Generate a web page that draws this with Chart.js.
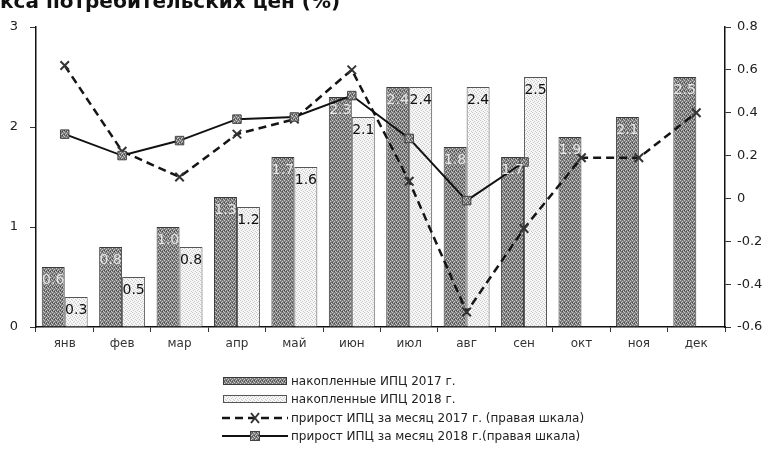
<!DOCTYPE html>
<html>
<head>
<meta charset="utf-8">
<script src="https://cdn.jsdelivr.net/npm/chart.js@4.4.1/dist/chart.umd.min.js"></script>
<style>
  body { margin: 0; background: #fff; }
  #wrap { position: relative; width: 771px; height: 461px; overflow: hidden; }
  #title { position: absolute; left: 0; top: -11px; font: bold 20px "DejaVu Sans"; color: #111; white-space: nowrap; }
  #legend { position: absolute; left: 222px; top: 372px; font: 12px "DejaVu Sans"; color: #222; }
  #legend div { height: 18.3px; display: flex; align-items: center; white-space: nowrap; }
  #legend canvas { margin-right: 3px; }
</style>
</head>
<body>
<div id="wrap">
  <div id="title">кса потребительских цен (%)</div>
  <canvas id="chart" width="771" height="461"></canvas>
  <div id="legend"></div>
</div>
<script>
var months = ['янв', 'фев', 'мар', 'апр', 'май', 'июн', 'июл', 'авг', 'сен', 'окт', 'ноя', 'дек'];
var cpi2017 = [0.6, 0.8, 1.0, 1.3, 1.7, 2.3, 2.4, 1.8, 1.7, 1.9, 2.1, 2.5];
var cpi2018 = [0.3, 0.5, 0.8, 1.2, 1.6, 2.1, 2.4, 2.4, 2.5, null, null, null];
var mom2017 = [0.62, 0.22, 0.1, 0.3, 0.37, 0.6, 0.08, -0.53, -0.14, 0.19, 0.19, 0.4];
var mom2018 = [0.3, 0.2, 0.27, 0.37, 0.38, 0.48, 0.28, -0.01, 0.17, null, null, null];
var leftTicks = [0, 1, 2, 3];
var rightTicks = [-0.6, -0.4, -0.2, 0, 0.2, 0.4, 0.6, 0.8];

// dithered fills, a bit like the scanned print
function makePattern(ctx, base, dot, dark) {
  var c = document.createElement('canvas');
  c.width = 4; c.height = 4;
  var g = c.getContext('2d');
  g.fillStyle = base;
  g.fillRect(0, 0, 4, 4);
  g.fillStyle = dot;
  [[0, 0], [2, 1], [1, 2], [3, 3]].forEach(function(p) { g.fillRect(p[0], p[1], 1, 1); });
  if (dark) {
    g.fillStyle = dark;
    [[2, 3], [0, 2]].forEach(function(p) { g.fillRect(p[0], p[1], 1, 1); });
  }
  return ctx.createPattern(c, 'repeat');
}

var canvas = document.getElementById('chart');
var ctx = canvas.getContext('2d');
var darkFill = makePattern(ctx, '#7c7c7c', '#c8c8c8', '#4a4a4a');
var lightFill = makePattern(ctx, '#f6f6f6', '#c9c9c9');

var barLabels = {
  id: 'barLabels',
  afterDatasetsDraw: function(chart) {
    var c = chart.ctx;
    c.save();
    c.font = '14px "DejaVu Sans"';
    c.textAlign = 'center';
    c.textBaseline = 'middle';
    [0, 1].forEach(function(di) {
      var vals = chart.data.datasets[di].data;
      chart.getDatasetMeta(di).data.forEach(function(bar, i) {
        if (vals[i] == null) return;
        c.fillStyle = di === 0 ? '#e4e4e4' : '#111';
        c.fillText(vals[i].toFixed(1), bar.x, bar.y + 13);
      });
    });
    c.restore();
  }
};

var chart = new Chart(ctx, {
  type: 'bar',
  data: {
    labels: months,
    datasets: [{
      type: 'bar',
      label: 'накопленные ИПЦ 2017 г.',
      data: cpi2017,
      backgroundColor: darkFill,
      borderColor: '#3a3a3a',
      borderWidth: 1,
      yAxisID: 'y',
      categoryPercentage: 0.8,
      barPercentage: 1,
      order: 2
    }, {
      type: 'bar',
      label: 'накопленные ИПЦ 2018 г.',
      data: cpi2018,
      backgroundColor: lightFill,
      borderColor: '#555',
      borderWidth: 1,
      yAxisID: 'y',
      categoryPercentage: 0.8,
      barPercentage: 1,
      order: 2
    }, {
      type: 'line',
      label: 'прирост ИПЦ за месяц 2017 г. (правая шкала)',
      data: mom2017,
      borderColor: '#151515',
      borderWidth: 2.5,
      borderDash: [8, 5],
      pointStyle: 'crossRot',
      pointRadius: 6,
      pointBorderWidth: 2,
      pointBorderColor: '#333',
      yAxisID: 'y1',
      order: 1
    }, {
      type: 'line',
      label: 'прирост ИПЦ за месяц 2018 г.(правая шкала)',
      data: mom2018,
      borderColor: '#111',
      borderWidth: 2,
      pointStyle: 'rect',
      pointRadius: 6,
      pointBackgroundColor: darkFill,
      pointBorderColor: '#444',
      pointBorderWidth: 1,
      yAxisID: 'y1',
      order: 0
    }]
  },
  options: {
    responsive: false,
    animation: false,
    layout: { padding: { top: 27, bottom: 104, left: 0, right: 0 } },
    plugins: {
      legend: { display: false },
      tooltip: { enabled: false }
    },
    scales: {
      x: {
        grid: { display: true, drawOnChartArea: false, offset: true, tickLength: 5, color: '#333' },
        border: { color: '#111', width: 1.5 },
        ticks: { font: { size: 12, family: 'DejaVu Sans' }, color: '#333', padding: 5 },
        afterFit: function(s) { s.height = 30; }
      },
      y: {
        position: 'left',
        min: 0,
        max: 3,
        afterBuildTicks: function(s) { s.ticks = leftTicks.map(function(v) { return { value: v }; }); },
        grid: { drawOnChartArea: false, tickLength: 6, color: '#333' },
        border: { color: '#111', width: 1.5 },
        ticks: { font: { size: 13, family: 'DejaVu Sans' }, color: '#222', padding: 12 },
        afterFit: function(s) { s.width = 36; }
      },
      y1: {
        position: 'right',
        min: -0.6,
        max: 0.8,
        afterBuildTicks: function(s) { s.ticks = rightTicks.map(function(v) { return { value: v }; }); },
        grid: { drawOnChartArea: false, tickLength: 6, color: '#333' },
        border: { color: '#111', width: 1.5 },
        ticks: {
          font: { size: 13, family: 'DejaVu Sans' },
          color: '#222',
          padding: 6,
          callback: function(v) { return String(Math.round(v * 10) / 10); }
        },
        afterFit: function(s) { s.width = 46; }
      }
    }
  },
  plugins: [barLabels]
});

// legend in a column under the chart
var legend = document.getElementById('legend');
chart.data.datasets.forEach(function(ds, i) {
  var row = document.createElement('div');
  var sym = document.createElement('canvas');
  sym.width = 66; sym.height = 14;
  var g = sym.getContext('2d');
  if (ds.type === 'bar') {
    g.fillStyle = i === 0 ? makePattern(g, '#7c7c7c', '#c8c8c8', '#4a4a4a') : makePattern(g, '#f6f6f6', '#c9c9c9');
    g.fillRect(1, 3, 64, 8);
    g.strokeStyle = ds.borderColor;
    g.lineWidth = 1;
    g.strokeRect(1.5, 3.5, 63, 7);
  } else {
    g.strokeStyle = ds.borderColor;
    g.lineWidth = ds.borderWidth;
    g.setLineDash(ds.borderDash || []);
    g.beginPath(); g.moveTo(0, 7); g.lineTo(66, 7); g.stroke();
    g.setLineDash([]);
    if (ds.pointStyle === 'rect') {
      g.fillStyle = makePattern(g, '#7c7c7c', '#c8c8c8', '#4a4a4a');
      g.fillRect(28, 2, 10, 10);
      g.strokeStyle = '#444'; g.lineWidth = 1;
      g.strokeRect(28.5, 2.5, 9, 9);
    } else {
      g.strokeStyle = '#333'; g.lineWidth = 2;
      g.beginPath();
      g.moveTo(29, 2); g.lineTo(37, 12);
      g.moveTo(37, 2); g.lineTo(29, 12);
      g.stroke();
    }
  }
  row.appendChild(sym);
  var span = document.createElement('span');
  span.textContent = ds.label;
  row.appendChild(span);
  legend.appendChild(row);
});
</script>
</body>
</html>
